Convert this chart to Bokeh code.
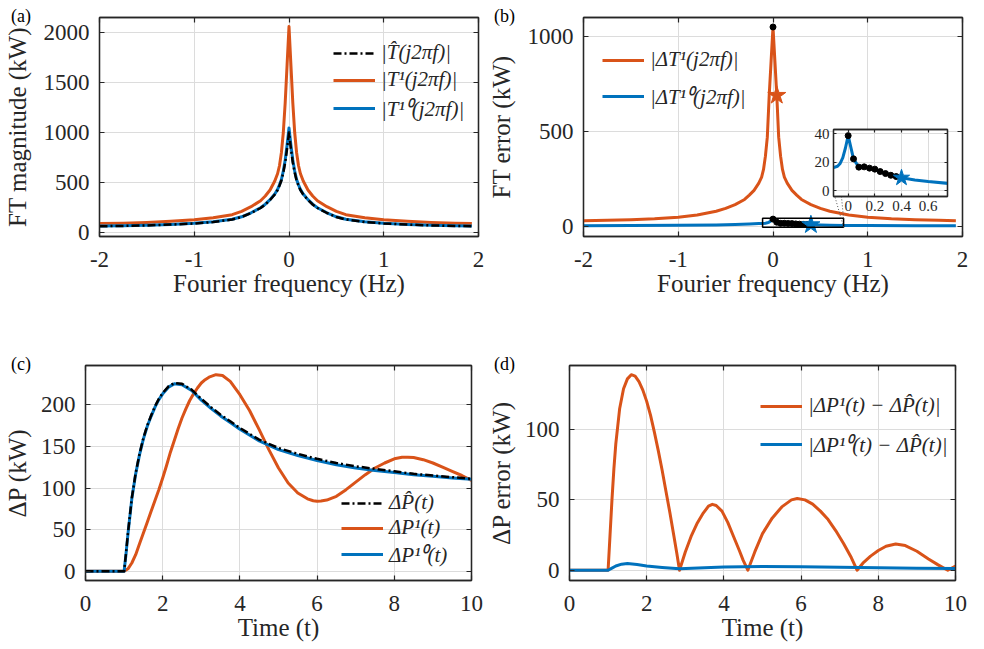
from bokeh.plotting import figure
from bokeh.layouts import column, row
from bokeh.models import (Legend, LegendItem, LinearAxis, FixedTicker, Div,
                          CustomJSTickFormatter, Range1d)
from bokeh.embed import file_html
from bokeh.resources import INLINE

# ---------------- data ----------------
# (a) Fourier transform magnitudes (kW) vs Fourier frequency (Hz)
freq = [-2, -1.75, -1.5, -1.25, -1, -0.8, -0.6, -0.5, -0.4, -0.3, -0.25, -0.2,
        -0.15, -0.12, -0.1, -0.08, -0.06, -0.04, -0.02, 0, 0.02, 0.04, 0.06,
        0.08, 0.1, 0.12, 0.15, 0.2, 0.25, 0.3, 0.4, 0.5, 0.6, 0.8, 1, 1.25,
        1.5, 1.75, 1.93]
ft_hat = [62, 66, 71, 79, 90, 105, 130, 155, 195, 245, 280, 325, 380, 425,
          470, 520, 600, 700, 840, 1000, 840, 700, 600, 520, 470, 425, 380,
          325, 280, 245, 195, 155, 130, 105, 90, 79, 71, 66, 62]
ft_1 = [90, 93, 100, 112, 128, 148, 178, 212, 258, 318, 365, 425, 515, 590,
        670, 800, 1000, 1300, 1680, 2060, 1680, 1300, 1000, 800, 670, 590,
        515, 425, 365, 318, 258, 212, 178, 148, 128, 112, 100, 93, 90]
ft_10 = [64, 68, 73, 81, 92, 107, 132, 157, 197, 248, 283, 329, 385, 431,
         477, 530, 615, 725, 875, 1045, 875, 725, 615, 530, 477, 431, 385,
         329, 283, 248, 197, 157, 132, 107, 92, 81, 73, 68, 64]

# (b) Fourier transform errors (kW)
err_1 = [30, 32, 35, 40, 48, 60, 80, 95, 115, 142, 165, 190, 228, 260, 300,
         370, 470, 690, 870, 1050, 870, 690, 470, 370, 300, 260, 228, 190,
         165, 142, 115, 95, 80, 60, 48, 40, 35, 32, 30]
freq_err10 = [-2, -1.5, -1, -0.6, -0.4, -0.25, -0.15, -0.11, -0.08, -0.06,
              -0.04, -0.02, 0, 0.04, 0.08, 0.12, 0.16, 0.2, 0.24, 0.28, 0.32,
              0.36, 0.4, 0.5, 0.6, 0.75, 1, 1.5, 1.93]
err_10 = [4, 5, 6, 8, 10, 13, 15, 16, 17, 19, 23, 30, 38.5, 22.2, 16.4, 16.6,
          15.7, 15.0, 13.3, 11.9, 10.7, 9.8, 8.9, 7.4, 6.3, 5.0, 4.5, 4.0, 3.5]
sel_freq_1 = [0]
sel_err_1 = [1050]
star_freq_1 = [0.04]
star_err_1 = [690]
sel_freq_10 = [0, 0.04, 0.08, 0.12, 0.16, 0.2, 0.24, 0.28, 0.32, 0.36]
sel_err_10 = [38.5, 22.2, 16.4, 16.6, 15.7, 15.0, 13.3, 11.9, 10.7, 9.8]
star_freq_10 = [0.4]
star_err_10 = [8.9]
inset_x = (-0.11, 0.745)
inset_y = (-4.2, 42.8)

# (c) power responses (kW) vs time
time_ref = [0, 1.0, 1.05, 1.1, 1.2, 1.3, 1.4, 1.5, 1.6, 1.7, 1.8, 1.9, 2.0,
            2.15, 2.3, 2.5, 2.75, 3.0, 3.25, 3.5, 3.75, 4.0, 4.5, 5.0, 5.5,
            6.0, 6.5, 7.0, 7.5, 8.0, 8.5, 9.0, 9.5, 10.0]
dp_hat = [0, 0, 22, 46, 88, 118, 141, 160, 175, 187, 198, 207, 214, 222,
          226, 225, 218, 207, 197, 188, 180, 172, 158, 148, 141, 135, 130,
          126, 123, 120, 117, 115, 113, 111]
dp_10 = [0, 0, 21, 45, 87, 117, 140, 159, 174, 186, 197, 206, 213, 221, 225,
         224, 217, 205.5, 195.5, 186.5, 178.5, 170.5, 156.5, 146, 139, 133,
         128, 124, 121, 118.5, 116, 114, 112, 110.5]
time_1 = [0, 1.0, 1.1, 1.2, 1.3, 1.4, 1.5, 1.6, 1.7, 1.8, 1.9, 2.0, 2.1, 2.2,
          2.3, 2.4, 2.5, 2.6, 2.7, 2.8, 2.9, 3.0, 3.1, 3.2, 3.38, 3.55, 3.75,
          4.0, 4.25, 4.5, 4.75, 5.0, 5.25, 5.5, 5.75, 5.9, 6.0, 6.1, 6.25,
          6.5, 6.75, 7.0, 7.25, 7.5, 7.75, 8.0, 8.2, 8.35, 8.5, 8.75, 9.0,
          9.25, 9.5, 9.75, 10.0]
dp_1 = [0, 0, 3, 10, 20, 33, 46, 59, 72, 85, 98, 112, 127, 143, 157, 171,
        184, 195, 205, 213, 220, 226, 230, 233, 236, 235, 228, 212, 193, 170,
        146, 124, 106, 94, 87, 84.7, 84, 84.3, 85.5, 90, 98, 107, 116, 124,
        130, 135, 136.8, 137, 136.5, 134, 130, 125, 120, 115, 109]

# (d) power errors (kW) vs time
time_e1 = [0, 1.0, 1.05, 1.1, 1.15, 1.2, 1.3, 1.4, 1.5, 1.6, 1.7, 1.8, 1.9,
           2.0, 2.1, 2.2, 2.3, 2.4, 2.5, 2.6, 2.7, 2.78, 2.85, 3.0, 3.15, 3.3,
           3.45, 3.6, 3.7, 3.8, 3.95, 4.1, 4.25, 4.4, 4.5, 4.62, 4.8, 5.0,
           5.25, 5.5, 5.75, 5.9, 6.1, 6.3, 6.5, 6.7, 6.9, 7.1, 7.3, 7.45,
           7.6, 7.8, 8.0, 8.2, 8.45, 8.7, 9.0, 9.3, 9.55, 9.8, 10.0]
err_dp1 = [0, 0, 25, 50, 72, 90, 115, 129, 136, 139, 138, 134, 128, 120, 110,
           98, 85, 71, 56, 41, 25, 12, 0, 13, 24, 33, 40, 45.5, 46.8, 46, 42,
           34, 24, 14, 7, 0, 13, 26, 37, 45, 50, 51, 50, 47, 42, 36, 28, 19, 9,
           0, 5, 10, 14, 17, 18.6, 17.5, 13.5, 8, 3.8, 0, 3]
time_e10 = [0, 1.0, 1.1, 1.2, 1.35, 1.5, 1.75, 2.0, 2.4, 2.85, 3.5, 4.0, 5.0,
            6.0, 7.0, 8.0, 9.0, 10.0]
err_dp10 = [0, 0, 1.5, 3, 4.3, 4.7, 4, 3, 2, 1.0, 1.8, 2.3, 2.6, 2.5, 2.2,
            1.8, 1.4, 1.2]

# ticks
freq_ticks = [-2, -1, 0, 1, 2]
time_ticks = [0, 2, 4, 6, 8, 10]

# ---------------- style ----------------
ORANGE = "#D95319"
BLUE = "#0072BD"
FRAME = "#262626"
GRID = "#dcdcdc"
FONT = "Liberation Serif"
DASHDOT = "8 3 2 3"


def style_axis(ax, size="23px", standoff=10):
    ax.axis_line_color = FRAME
    ax.axis_line_width = 1.3
    ax.major_tick_in = 5
    ax.major_tick_out = 0
    ax.major_tick_line_color = FRAME
    ax.major_tick_line_width = 1.2
    ax.minor_tick_line_color = None
    ax.major_label_text_font = FONT
    ax.major_label_text_font_size = size
    ax.major_label_text_color = FRAME
    ax.major_label_standoff = standoff
    ax.axis_label_text_font = FONT
    ax.axis_label_text_font_size = "25px"
    ax.axis_label_text_font_style = "normal"
    ax.axis_label_text_color = FRAME


def place(obj, left, top, z=1):
    obj.styles = {"position": "absolute", "left": f"{left}px",
                  "top": f"{top}px", "z-index": str(z)}


def make_fig(w, h, xr, yr, borders, xticks, yticks, xlabel, ylabel,
             tick_size="23px", xstand=11, ystand=10, lstand=(0, 10)):
    l, r, t, b = borders
    p = figure(width=w, height=h, x_range=Range1d(*xr), y_range=Range1d(*yr),
               output_backend="svg", toolbar_location=None,
               min_border_left=l, min_border_right=r, min_border_top=t,
               min_border_bottom=b)
    p.background_fill_color = "white"
    p.border_fill_color = "white"
    p.outline_line_color = FRAME
    p.outline_line_width = 1.3
    p.xaxis.ticker = FixedTicker(ticks=xticks)
    p.yaxis.ticker = FixedTicker(ticks=yticks)
    p.xgrid.ticker = FixedTicker(ticks=xticks)
    p.ygrid.ticker = FixedTicker(ticks=yticks)
    for g in (p.xgrid[0], p.ygrid[0]):
        g.grid_line_color = GRID
        g.grid_line_width = 1
    style_axis(p.xaxis[0], tick_size, xstand)
    style_axis(p.yaxis[0], tick_size, ystand)
    p.xaxis[0].major_label_overrides = {v: ("%g" % v) for v in xticks}
    p.yaxis[0].major_label_overrides = {v: ("%g" % v) for v in yticks}
    if xlabel:
        p.xaxis[0].axis_label = xlabel
        p.xaxis[0].axis_label_standoff = lstand[0]
    if ylabel:
        p.yaxis[0].axis_label = ylabel
        p.yaxis[0].axis_label_standoff = lstand[1]
    blank = "return ''"
    top = LinearAxis(ticker=FixedTicker(ticks=xticks),
                     formatter=CustomJSTickFormatter(code=blank))
    right = LinearAxis(ticker=FixedTicker(ticks=yticks),
                       formatter=CustomJSTickFormatter(code=blank))
    for ax in (top, right):
        style_axis(ax)
        ax.major_label_text_font_size = "0px"
        ax.major_label_standoff = 0
    p.add_layout(top, "above")
    p.add_layout(right, "right")
    return p


def make_legend(items, loc, spacing):
    return Legend(items=items, location=loc, label_text_font=FONT,
                  label_text_font_size="21px", label_text_font_style="italic",
                  label_text_color=FRAME, glyph_width=42, glyph_height=20,
                  label_height=20, spacing=spacing, padding=0, margin=0,
                  label_standoff=6, border_line_alpha=0,
                  background_fill_alpha=0)


def panel_label(text, left, top):
    d = Div(text=text, width=30, height=24)
    d.styles = {"position": "absolute", "left": f"{left}px",
                "top": f"{top}px", "z-index": "20",
                "font-family": "'Liberation Serif'", "font-size": "18px",
                "color": "black", "line-height": "1.15"}
    return d


# ---------------- (a) ----------------
pa = make_fig(484, 320, (-2, 2), (-40, 2150), (96, 6, 17, 84), freq_ticks,
              [0, 500, 1000, 1500, 2000], "Fourier frequency (Hz)",
              "FT magnitude (kW)", xstand=15, lstand=(0, 10))
ra1 = pa.line(freq, ft_1, line_color=ORANGE, line_width=3, line_join="round")
ra10 = pa.line(freq, ft_10, line_color=BLUE, line_width=3, line_join="round")
rah = pa.line(freq, ft_hat, line_color="black", line_width=2.5,
              line_dash=DASHDOT, line_join="round")
pa.add_layout(make_legend([
    LegendItem(label="|T\u0302(j2\u03c0f)|", renderers=[rah]),
    LegendItem(label="|T\u00b9(j2\u03c0f)|", renderers=[ra1]),
    LegendItem(label="|T\u00b9\u2070(j2\u03c0f)|", renderers=[ra10])],
    (234, 114), 2))

# ---------------- (b) ----------------
pb = make_fig(491, 320, (-2, 2), (-53, 1100), (95, 13, 17, 84), freq_ticks,
              [0, 500, 1000], "Fourier frequency (Hz)", "FT error (kW)",
              xstand=15, lstand=(0, 10))
rb1 = pb.line(freq, err_1, line_color=ORANGE, line_width=3, line_join="round")
rb10 = pb.line(freq_err10, err_10, line_color=BLUE, line_width=3,
               line_join="round")
pb.scatter(sel_freq_1, sel_err_1, size=6, color="black")
pb.scatter(star_freq_1, star_err_1, marker="star", size=19, color=ORANGE)
pb.scatter(sel_freq_10, sel_err_10, size=6, color="black")
pb.scatter(star_freq_10, star_err_10, marker="star", size=19, color=BLUE)
# zoom box drawn with the inset's ranges
pb.quad(left=[inset_x[0]], right=[inset_x[1]], bottom=[inset_y[0]],
        top=[inset_y[1]], fill_alpha=0, line_color="black", line_width=1.5)
pb.add_layout(make_legend([
    LegendItem(label="|\u0394T\u00b9(j2\u03c0f)|", renderers=[rb1]),
    LegendItem(label="|\u0394T\u00b9\u2070(j2\u03c0f)|", renderers=[rb10])],
    (19, 126), 10))

# dotted connectors from the zoom box to the inset corners
bx0, bx1, by0, by1 = 579, 962, 17, 236   # panel (b) frame, page px
ix0, iy0, iy1 = 833, 129, 196            # inset frame, page px


def px_to_b(px, py):
    fx = -2 + (px - bx0) / (bx1 - bx0) * 4
    fy = 1100 - (py - by0) / (by1 - by0) * (1100 + 53)
    return fx, fy


c_tl = px_to_b(ix0, iy0)
c_bl = px_to_b(ix0, iy1)
pb.line([inset_x[1], c_tl[0]], [inset_y[1], c_tl[1]], line_color="#555555",
        line_width=1, line_dash="1 2")
pb.line([inset_x[1], c_bl[0]], [inset_y[0], c_bl[1]], line_color="#555555",
        line_width=1, line_dash="1 2")

# ---------------- inset ----------------
pi = make_fig(152, 94, inset_x, inset_y, (35, 3, 3, 24), [0, 0.2, 0.4, 0.6],
              [0, 20, 40], None, None, tick_size="15px", xstand=4, ystand=4)
pi.border_fill_color = None
for ax in pi.axis:
    ax.major_tick_in = 3
pi.line(freq_err10, err_10, line_color=BLUE, line_width=3, line_join="round")
pi.scatter(sel_freq_10, sel_err_10, size=6, color="black")
pi.scatter(star_freq_10, star_err_10, marker="star", size=17, color=BLUE)
place(pi, 798, 126, 10)

# ---------------- (c) ----------------
pc = make_fig(484, 328, (0, 10), (-11, 247), (82, 13, 45, 68), time_ticks,
              [0, 50, 100, 150, 200], "Time (t)", "\u0394P (kW)",
              xstand=15, lstand=(0, 7))
rc1 = pc.line(time_1, dp_1, line_color=ORANGE, line_width=3, line_join="round")
rc10 = pc.line(time_ref, dp_10, line_color=BLUE, line_width=3,
               line_join="round")
rch = pc.line(time_ref, dp_hat, line_color="black", line_width=2.5,
              line_dash=DASHDOT, line_join="round")
pc.add_layout(make_legend([
    LegendItem(label="\u0394P\u0302(t)", renderers=[rch]),
    LegendItem(label="\u0394P\u00b9(t)", renderers=[rc1]),
    LegendItem(label="\u0394P\u00b9\u2070(t)", renderers=[rc10])],
    (256, 12), 0))

# ---------------- (d) ----------------
pd = make_fig(491, 328, (0, 10), (-7.3, 145.5), (83, 20, 45, 68), time_ticks,
              [0, 50, 100], "Time (t)", "\u0394P error (kW)",
              xstand=15, lstand=(0, 7))
rd1 = pd.line(time_e1, err_dp1, line_color=ORANGE, line_width=3,
              line_join="round")
rd10 = pd.line(time_e10, err_dp10, line_color=BLUE, line_width=3,
               line_join="round")
pd.add_layout(make_legend([
    LegendItem(label="|\u0394P\u00b9(t) \u2212 \u0394P\u0302(t)|",
               renderers=[rd1]),
    LegendItem(label="|\u0394P\u00b9\u2070(t) \u2212 \u0394P\u0302(t)|",
               renderers=[rd10])],
    (191, 122), 12))

labels = [panel_label("(a)", 6, 1), panel_label("(b)", 489, 1),
          panel_label("(c)", 6, 349), panel_label("(d)", 489, 349)]

layout = column(row(pa, pb), row(pc, pd), pi, *labels)
layout.styles = {"position": "absolute", "left": "0px", "top": "0px"}
open("out.html", "w").write(file_html(layout, INLINE))
